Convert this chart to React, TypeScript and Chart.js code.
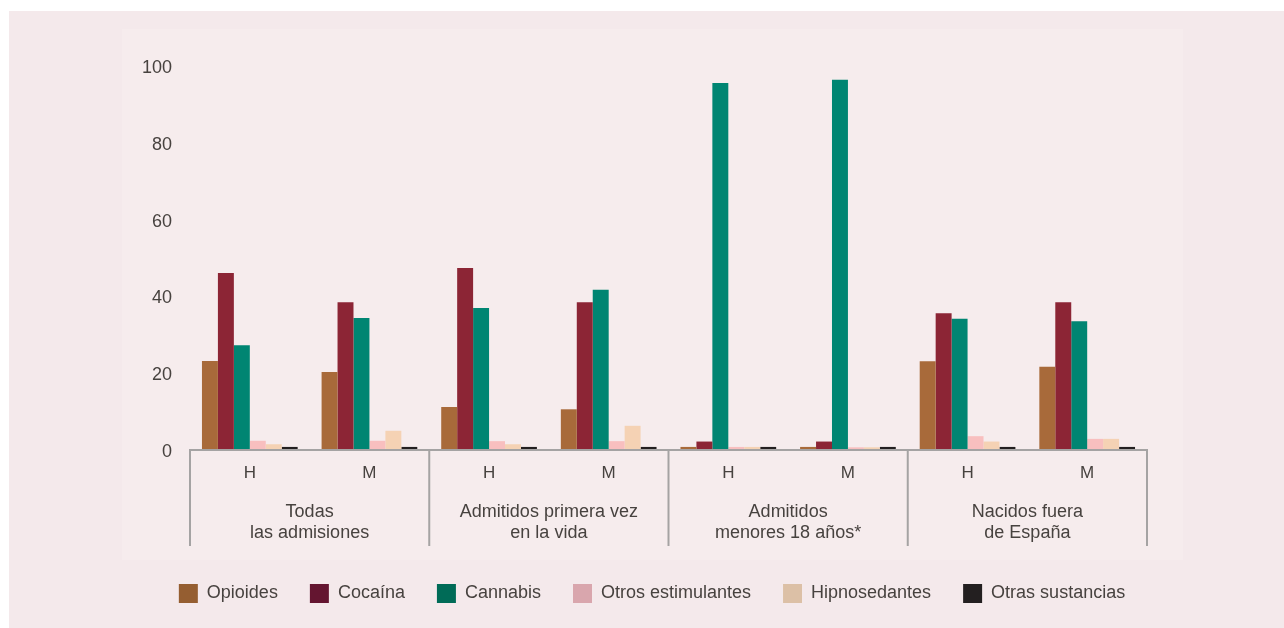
import React, { useEffect, useRef } from "react";
import { Chart, registerables } from "chart.js";

Chart.register(...registerables);

const categories = ["H", "M", "H", "M", "H", "M", "H", "M"];
const groupLabels = [
  ["Todas", "las admisiones"],
  ["Admitidos primera vez", "en la vida"],
  ["Admitidos", "menores 18 años*"],
  ["Nacidos fuera", "de España"],
];
const yTickValues = [0, 20, 40, 60, 80, 100];
const seriesNames = [
  "Opioides",
  "Cocaína",
  "Cannabis",
  "Otros estimulantes",
  "Hipnosedantes",
  "Otras sustancias",
];
const opioides = [23.2, 20.3, 11.2, 10.6, 0.8, 0.8, 23.1, 21.7];
const cocaina = [46.1, 38.5, 47.4, 38.5, 2.2, 2.2, 35.6, 38.5];
const cannabis = [27.3, 34.4, 37.0, 41.7, 95.6, 96.4, 34.2, 33.5];
const otrosEstimulantes = [2.4, 2.4, 2.3, 2.3, 0.8, 0.7, 3.6, 2.9];
const hipnosedantes = [1.5, 5.0, 1.5, 6.3, 0.8, 0.7, 2.2, 2.9];
const otrasSustancias = [0.8, 0.8, 0.8, 0.8, 0.8, 0.8, 0.8, 0.8];

const barColors = ["#a86a3a", "#8c2535", "#008572", "#f8bfbf", "#f5d2b4", "#231f20"];
const legendColors = ["#955e31", "#641530", "#006b57", "#d9a6ad", "#dcc0a6", "#231f20"];

const FONT = "'Liberation Sans', Arial, Helvetica, sans-serif";
const TEXT = "#47423f";
const AXIS = "#a5a3a3";

const groupPlugin = {
  id: "groupAxis",
  afterDraw(chart: any) {
    const { ctx, chartArea, scales } = chart;
    const x = scales.x;
    const y = scales.y;
    const y0 = y.getPixelForValue(0);
    const n = categories.length;
    const w = (chartArea.right - chartArea.left) / n;
    ctx.save();
    ctx.strokeStyle = AXIS;
    ctx.lineWidth = 2;
    ctx.beginPath();
    ctx.moveTo(chartArea.left - 1, y0);
    ctx.lineTo(chartArea.right + 1, y0);
    for (let g = 0; g <= groupLabels.length; g++) {
      const px = x.getPixelForValue(Math.min(g * 2, n - 1)) + (g * 2 >= n ? w / 2 : -w / 2);
      ctx.moveTo(px, y0 - 1);
      ctx.lineTo(px, y0 + 96);
    }
    ctx.stroke();
    ctx.fillStyle = TEXT;
    ctx.font = `18px ${FONT}`;
    ctx.textAlign = "center";
    ctx.textBaseline = "middle";
    groupLabels.forEach((lines, g) => {
      const cx = (x.getPixelForValue(g * 2) + x.getPixelForValue(g * 2 + 1)) / 2;
      lines.forEach((t, i) => ctx.fillText(t, cx, y0 + 62 + i * 21));
    });
    ctx.restore();
  },
};

export default function App() {
  const ref = useRef<HTMLCanvasElement>(null);
  useEffect(() => {
    if (!ref.current) return;
    const data = [opioides, cocaina, cannabis, otrosEstimulantes, hipnosedantes, otrasSustancias];
    const chart = new Chart(ref.current, {
      type: "bar",
      data: {
        labels: categories,
        datasets: seriesNames.map((name, i) => ({
          label: name,
          data: data[i],
          backgroundColor: barColors[i],
          borderWidth: 0,
          categoryPercentage: 0.8,
          barPercentage: 1.0,
        })),
      },
      options: {
        animation: false,
        responsive: false,
        maintainAspectRatio: false,
        layout: { padding: { left: 121, right: 110, top: 55, bottom: 15 } },
        plugins: {
          tooltip: { enabled: false },
          legend: {
            position: "bottom",
            labels: {
              boxWidth: 19,
              boxHeight: 19,
              padding: 32,
              color: TEXT,
              font: { family: FONT, size: 18 },
              generateLabels: () =>
                seriesNames.map((name, i) => ({
                  text: name,
                  fillStyle: legendColors[i],
                  strokeStyle: legendColors[i],
                  lineWidth: 0,
                  hidden: false,
                  datasetIndex: i,
                  fontColor: TEXT,
                })),
            },
          },
        },
        scales: {
          x: {
            grid: { display: false, drawTicks: false },
            border: { display: false },
            ticks: { color: TEXT, font: { family: FONT, size: 17 }, padding: 13 },
            afterFit: (s: any) => {
              s.height = 102;
            },
          },
          y: {
            min: 0,
            max: 100,
            grid: { display: false, drawTicks: false },
            border: { display: false },
            afterBuildTicks: (s: any) => {
              s.ticks = yTickValues.map((v) => ({ value: v }));
            },
            ticks: { color: TEXT, font: { family: FONT, size: 18 }, padding: 18, labelOffset: 2 },
            afterFit: (s: any) => {
              s.width = 60;
            },
          },
          yRight: {
            position: "right",
            min: 0,
            max: 100,
            grid: { display: false, drawTicks: false },
            border: { display: false },
            ticks: { display: false },
            afterFit: (s: any) => {
              s.width = 27;
            },
          },
        },
      },
      plugins: [groupPlugin],
    });
    return () => chart.destroy();
  }, []);

  return (
    <div
      style={{
        position: "fixed",
        left: 9,
        top: 11,
        width: 1275,
        height: 617,
        background: "#f4e9eb",
      }}
    >
      <div
        style={{
          position: "absolute",
          left: 113,
          top: 18,
          width: 1061,
          height: 531,
          background: "#f6eced",
        }}
      />
      <canvas
        ref={ref}
        width={1275}
        height={617}
        style={{ position: "absolute", left: 0, top: 0, width: 1275, height: 617 }}
      />
    </div>
  );
}
